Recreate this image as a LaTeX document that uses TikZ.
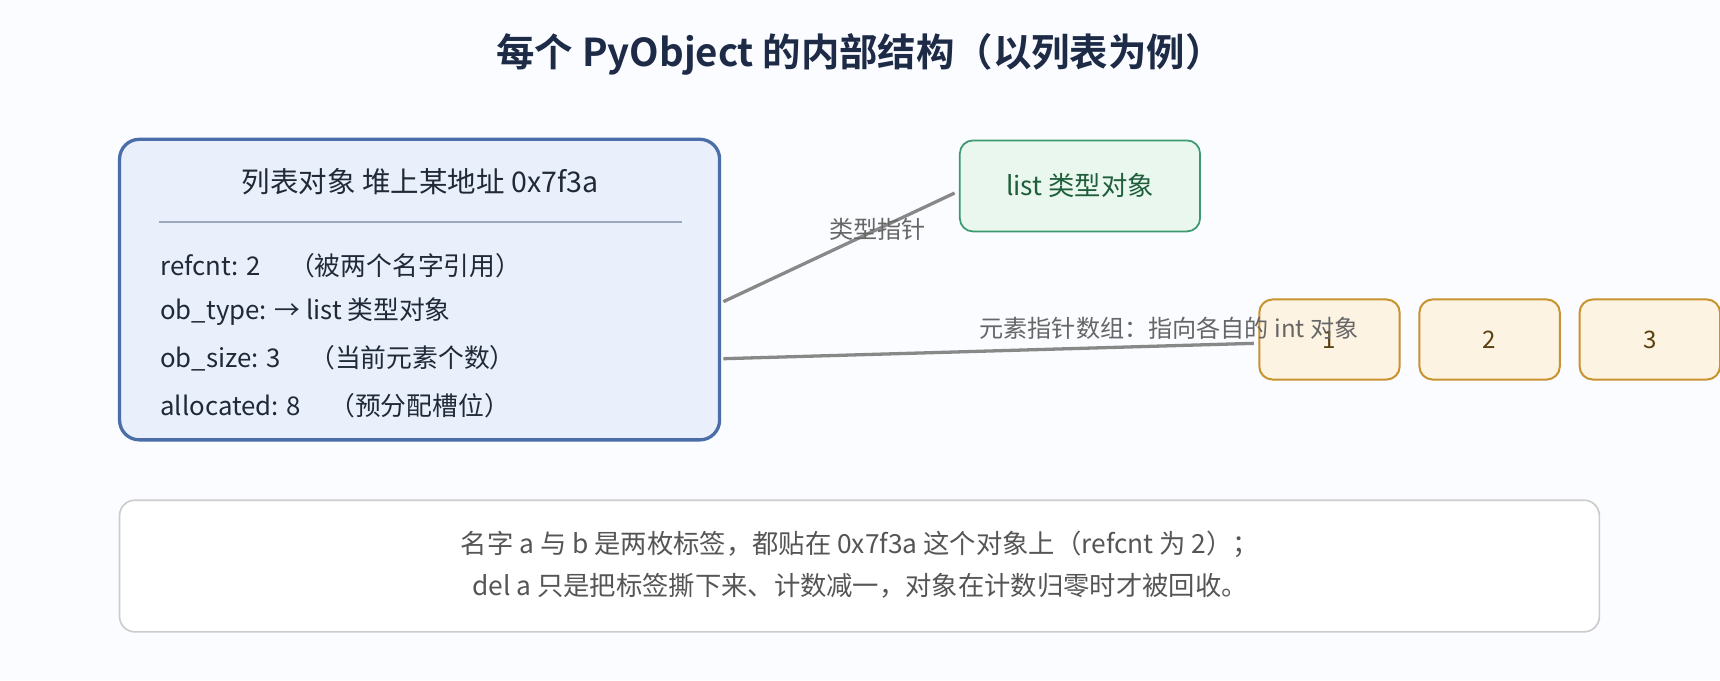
\documentclass[tikz,border=0pt]{standalone}
\usepackage{fontspec}
\setmainfont{Noto Sans CJK SC}[BoldFont={Noto Sans CJK SC Bold}]
\usetikzlibrary{positioning,calc}
\definecolor{bgpaper}{HTML}{FAFCFF}
\definecolor{titlenavy}{HTML}{1E2B47}
\definecolor{bodytext}{HTML}{1F2937}
\definecolor{objblue}{HTML}{4A6EA8}
\definecolor{objfill}{HTML}{E9F0FB}
\definecolor{sepgray}{HTML}{9AA9BD}
\definecolor{typegreen}{HTML}{3D9970}
\definecolor{typefill}{HTML}{EAF7EE}
\definecolor{typetext}{HTML}{1E5E3A}
\definecolor{intorange}{HTML}{C8922E}
\definecolor{intfill}{HTML}{FDF3E3}
\definecolor{inttext}{HTML}{5A4010}
\definecolor{ptrgray}{HTML}{888888}
\definecolor{labelgray}{HTML}{666666}
\definecolor{notegray}{HTML}{CCCCCC}
\definecolor{notetext}{HTML}{555555}

\begin{document}
\begin{tikzpicture}[x=1pt, y=-1pt,
        font=\fontsize{22pt}{26pt}\selectfont,
        objbox/.style={draw=objblue, line width=3pt, fill=objfill, rounded corners=18pt,
            minimum width=547pt, minimum height=274pt},
        field/.style={anchor=west, text=bodytext, inner sep=0pt, font=\fontsize{23.5pt}{27pt}\selectfont},
        typebox/.style={draw=typegreen, line width=1.6pt, fill=typefill, rounded corners=12pt,
            minimum width=219pt, minimum height=83pt, text=typetext, font=\fontsize{24pt}{28pt}\selectfont},
        intbox/.style={draw=intorange, line width=1.8pt, fill=intfill, rounded corners=12pt,
            minimum width=128pt, minimum height=73pt, text=inttext},
        ptr/.style={draw=ptrgray, line width=3pt},
        ptrlabel/.style={text=labelgray, inner sep=0pt},
        notebox/.style={draw=notegray, line width=1.5pt, fill=white, rounded corners=14pt,
            minimum width=1349pt, minimum height=120pt}]
        % Background
        \fill [bgpaper] (0,0) rectangle (1568,620);
        \useasboundingbox (0,0) rectangle (1568,620);
        % Title
        \node [text=titlenavy, font=\fontsize{35pt}{40pt}\selectfont\bfseries] (title) at (784,50)
            {每个 PyObject 的内部结构（以列表为例）};
        % List object
        \node [objbox] (obj) at (382.5,264) {};
        \node [text=bodytext, font=\fontsize{26pt}{30pt}\selectfont] (head) at (383,166)
            {列表对象 堆上某地址 0x7f3a};
        \draw [sepgray, line width=1.5pt]
            ($(obj.north west)+(37,77)$) -- ($(obj.north east)+(-36,77)$);
        \node [field] (refcnt) at (146,242) {refcnt: 2\hspace{26pt}（被两个名字引用）};
        \node [field] (obtype) at (146,284) {ob\_type: → list 类型对象};
        \node [field] (obsize) at (146,327) {ob\_size: 3\hspace{26pt}（当前元素个数）};
        \node [field] (alloc) at (146,370) {allocated: 8\hspace{26pt}（预分配槽位）};
        % Type object
        \node [typebox] (ltype) at (984.5,169.5) {list 类型对象};
        % Int objects
        \foreach \v [count=\i] in {1,2,3}
        {
        \node [intbox] (int\i) at ({1212+146*(\i-1)},309.5) {\v};
        }
        % Pointers
        \draw [ptr] ($(obj.east)+(2,11)$) -- ($(ltype.west)+(-4,6.5)$)
            node [ptrlabel, pos=0.667] (typelbl) {类型指针};
        \draw [ptr] ($(obj.east)+(2,63)$) -- ($(int1.west)+(-4,3.5)$)
            node [ptrlabel, pos=0.84, yshift=16pt] (itemlbl) {元素指针数组：指向各自的 int 对象};
        % Note
        \node [notebox] (note) at (783.5,516) {};
        \node [text=notetext, align=center, font=\fontsize{24pt}{38pt}\selectfont] (notetxt) at (784,515)
            {名字 a 与 b 是两枚标签，都贴在 0x7f3a 这个对象上（refcnt 为 2）；\\
             del a 只是把标签撕下来、计数减一，对象在计数归零时才被回收。};
\end{tikzpicture}
\end{document}
